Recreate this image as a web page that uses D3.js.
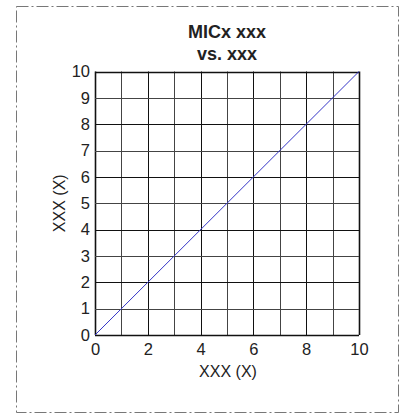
<!DOCTYPE html>
<html><head><meta charset="utf-8">
<script src="https://cdn.jsdelivr.net/npm/d3@7"></script>
<style>body{margin:0;background:#fff}svg{display:block}text{font-family:"Liberation Sans",Arial,sans-serif;fill:#222}</style>
</head><body>
<script>
const titleLines = ["MICx xxx", "vs. xxx"];
const xLabel = "XXX (X)";
const yLabel = "XXX (X)";
const xTicks = [0, 2, 4, 6, 8, 10];
const yTicks = [0, 1, 2, 3, 4, 5, 6, 7, 8, 9, 10];
const gridValues = [0, 1, 2, 3, 4, 5, 6, 7, 8, 9, 10];
const lineX = [0, 10];
const lineY = [0, 10];

const W = 403, H = 417;
const svg = d3.select("body").append("svg").attr("width", W).attr("height", H);

// dash-dot frame
svg.append("rect").attr("x", 16.5).attr("y", 6.5).attr("width", 382).attr("height", 406)
  .attr("fill", "none").attr("stroke", "#777").attr("stroke-width", 1)
  .attr("stroke-dasharray", "12,3,2,3");

const L = 95, R = 359, T = 71.5, B = 335;
const x = d3.scaleLinear().domain([0, 10]).range([L, R]);
const y = d3.scaleLinear().domain([0, 10]).range([B, T]);

const g = svg.append("g");
// grid
g.selectAll(".vg").data(gridValues).enter().append("line")
  .attr("x1", d => Math.round(x(d)) + 0.5).attr("x2", d => Math.round(x(d)) + 0.5)
  .attr("y1", y(0)).attr("y2", y(10))
  .attr("stroke", d => (d === 0 || d === 10) ? "#111" : (d % 2 ? "#444" : "#111"))
  .attr("stroke-width", d => (d === 0 || d === 10) ? 1.6 : 1);
g.selectAll(".hg").data(gridValues).enter().append("line")
  .attr("y1", d => Math.round(y(d)) + 0.5).attr("y2", d => Math.round(y(d)) + 0.5)
  .attr("x1", x(0)).attr("x2", x(10))
  .attr("stroke", d => (d === 0 || d === 10) ? "#111" : (d % 2 ? "#444" : "#111"))
  .attr("stroke-width", d => (d === 0 || d === 10) ? 1.6 : 1);

// diagonal
const line = d3.line().x(d => x(d[0])).y(d => y(d[1]));
g.append("path").datum(lineX.map((v, i) => [v, lineY[i]]))
  .attr("d", line).attr("fill", "none").attr("stroke", "#3535c8").attr("stroke-width", 1);

// axes (labels only)
const xAxis = d3.axisBottom(x).tickValues(xTicks).tickSize(0).tickPadding(8).tickFormat(d3.format("d"));
const xa = svg.append("g").attr("transform", `translate(0,${B})`).call(xAxis);
xa.select(".domain").remove();
xa.selectAll("text").style("font-size", "16.5px").attr("fill", "#222");

const yAxis = d3.axisLeft(y).tickValues(yTicks).tickSize(0).tickPadding(5).tickFormat(d3.format("d"));
const ya = svg.append("g").attr("transform", `translate(${L},0)`).call(yAxis);
ya.select(".domain").remove();
ya.selectAll("text").style("font-size", "16.5px").attr("fill", "#222");

// titles
svg.append("g").selectAll("text").data(titleLines).enter().append("text")
  .attr("x", (L + R) / 2).attr("y", (d, i) => 38 + i * 22)
  .attr("text-anchor", "middle").style("font-size", "18px").style("font-weight", "bold")
  .text(d => d);

svg.append("text").attr("x", (L + R) / 2 + 1).attr("y", 377).attr("text-anchor", "middle")
  .style("font-size", "16px").text(xLabel);
svg.append("text").attr("transform", `translate(65,${(T + B) / 2}) rotate(-90)`)
  .attr("text-anchor", "middle").style("font-size", "16px").text(yLabel);
</script>
</body></html>
